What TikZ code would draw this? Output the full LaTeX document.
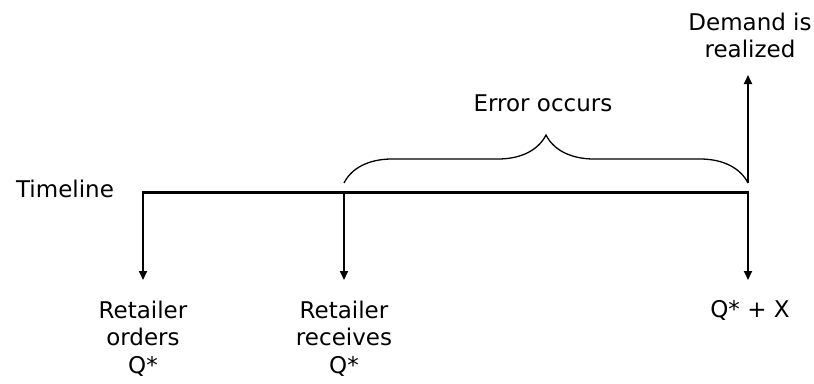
\documentclass[tikz,border=0pt]{standalone}
\usepackage{fontspec}
\setmainfont{DejaVu Sans}
\usetikzlibrary{arrows.meta,decorations.pathreplacing}

\begin{document}
\begin{tikzpicture}[x=1pt,y=-1pt,
		lbl/.style={font=\fontsize{23}{27.5}\selectfont,align=center,inner sep=0pt},
		tl/.style={line width=2.2pt},
		arr/.style={line width=1.8pt,-{Triangle[width=8pt,length=9pt]}}]
			\useasboundingbox (0,0) rectangle (814,383);
			% points on the timeline
			\coordinate (order) at (143,192.5);
			\coordinate (receive) at (344,192.5);
			\coordinate (demand) at (748,192.5);
			\coordinate (braceL) at (344,183);
			\coordinate (braceR) at (748,183);
			% arrow ends
			\coordinate (down) at (0,280);
			\coordinate (up) at (748,75);
			% labels
			\node[lbl,anchor=base] (timeline) at (65,197) {Timeline};
			\node[lbl,anchor=north] (orders) at (143,300.5) {Retailer\\orders\\Q*};
			\node[lbl,anchor=north] (receives) at (344,300.5) {Retailer\\receives\\Q*};
			\node[lbl,anchor=north] (qx) at (750,300.5) {Q* + X};
			\node[lbl,anchor=north] (realized) at (750,12.5) {Demand is\\realized};
			\node[lbl,anchor=base] (error) at (543,111) {Error occurs};
			% the timeline and its arrows
			\draw[tl,line cap=rect] (order) -- (demand);
			\draw[arr] (order) -- (order |- down);
			\draw[arr] (receive) -- (receive |- down);
			\draw[arr] (demand) -- (demand |- down);
			\draw[arr] (braceR) -- (up);
			% the brace over the error span
			\draw[line width=1.3pt,decorate,decoration={brace,amplitude=48pt}] (braceL) -- (braceR);
		\end{tikzpicture}
\end{document}
